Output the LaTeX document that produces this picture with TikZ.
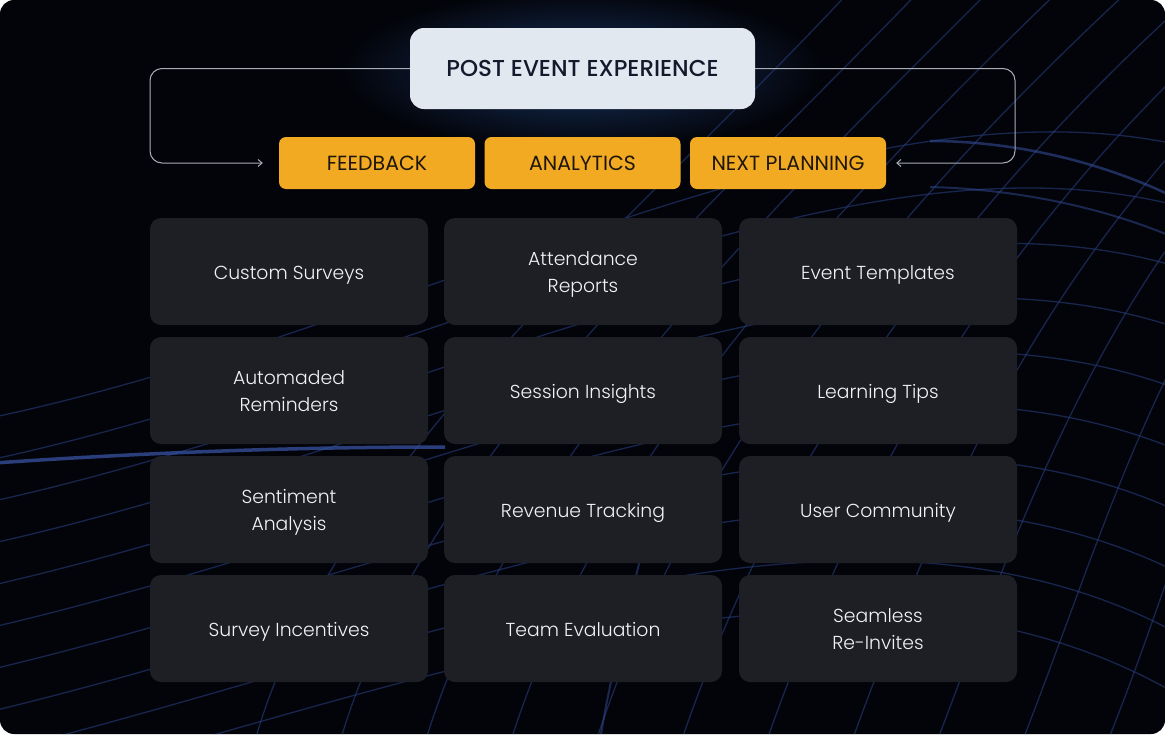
\documentclass[tikz,border=0pt]{standalone}
\usepackage{fontspec}
\setmainfont{Poppins}
\newfontfamily\titlefont{Poppins Medium}
\newfontfamily\lightfont{Poppins Light}
\usetikzlibrary{arrows.meta}
\definecolor{bgc}{HTML}{03040A}
\definecolor{glowc}{HTML}{16335E}
\definecolor{wavec}{HTML}{263C7A}
\definecolor{waveb}{HTML}{3652A2}
\definecolor{titlefill}{HTML}{E2E8F0}
\definecolor{titletext}{HTML}{121A2C}
\definecolor{orangec}{HTML}{F2AA22}
\definecolor{orangetext}{HTML}{1E160A}
\definecolor{cellfill}{HTML}{1E1F24}
\definecolor{celltext}{HTML}{F1F2F4}
\definecolor{connc}{HTML}{A9ADB6}
\tikzset{
  titlebox/.style={fill=titlefill, rounded corners=14pt, minimum width=345pt, minimum height=81pt,
    text=titletext, font=\titlefont\fontsize{23}{27}\selectfont, inner sep=0pt},
  tabbox/.style={fill=orangec, rounded corners=7pt, minimum width=196pt, minimum height=52pt,
    text=orangetext, font=\fontsize{20.5}{24}\selectfont, inner sep=0pt},
  cellbox/.style={fill=cellfill, rounded corners=11pt, minimum width=278pt, minimum height=107pt, inner sep=0pt},
  celltxt/.style={text=celltext, font=\lightfont\fontsize{18.8}{27}\selectfont, align=center, inner sep=0pt},
  conn/.style={draw=connc, line width=1pt, rounded corners=12pt, -{Straight Barb[length=4pt,width=7pt]}},
  wave/.style={draw=wavec, line width=1.3pt, opacity=0.6},
}
\newcommand\gridcell[4]{%
  \node[cellbox] (#1) at (#2,#3) {};
  \node[celltxt] (#1t) at ([yshift=-2.3pt]#1.center) {#4};
}
\begin{document}
\begin{tikzpicture}[x=1pt,y=-1pt]
\useasboundingbox (0,0) rectangle (1165,734);
\fill[white] (0,0) rectangle (1165,734);
\fill[bgc, rounded corners=14pt] (0,0) rectangle (1165,734);
\begin{scope}
\clip[rounded corners=14pt] (0,0) rectangle (1165,734);
% glow behind title
\shade[inner color=glowc, outer color=bgc] (582,70) ellipse (240pt and 80pt);
% latitude arcs
\foreach \i in {0,...,9}{
  \draw[wave] (-20,420+\i*42) .. controls (420,330+\i*40) and (860,60+\i*48) .. (1200,150+\i*62);
}
% longitude curves
\foreach \i in {0,...,11}{
  \draw[wave] (250+\i*85,760) .. controls (320+\i*90,470) and (640+\i*60,220) .. (860+\i*70,-20);
}
% bright bands
\draw[draw=waveb, line width=3.5pt, opacity=0.75] (-20,464) .. controls (150,452) and (300,447) .. (445,447);
\draw[draw=waveb, line width=2.5pt, opacity=0.55] (930,141) .. controls (1010,141) and (1100,160) .. (1180,200);
\draw[draw=waveb, line width=2pt, opacity=0.45] (930,187) .. controls (1010,189) and (1100,205) .. (1180,240);
\draw[draw=waveb, line width=2pt, opacity=0.45] (600,740) .. controls (610,680) and (620,640) .. (640,560);
\end{scope}

% title and tabs
\node[titlebox] (title) at (582.5,68.5) {\raisebox{-0.5pt}{POST EVENT EXPERIENCE}};
\node[tabbox] (feedback) at (377,163) {\raisebox{-1pt}{FEEDBACK}};
\node[tabbox] (analytics) at (582.5,163) {\raisebox{-1pt}{ANALYTICS}};
\node[tabbox] (planning) at (788,163) {\raisebox{-1pt}{NEXT PLANNING}};

% connectors
\coordinate (lcorner) at (150,163);
\coordinate (rcorner) at (1015,163);
\draw[conn, shorten >=16pt] (title.west) -| (lcorner) -- (feedback.west);
\draw[conn, shorten >=10pt] (title.east) -| (rcorner) -- (planning.east);

% grid
\gridcell{c11}{289}{271.5}{\strut Custom Surveys}
\gridcell{c12}{583}{271.5}{\strut Attendance\\\strut Reports}
\gridcell{c13}{878}{271.5}{\strut Event Templates}
\gridcell{c21}{289}{390.5}{\strut Automaded\\\strut Reminders}
\gridcell{c22}{583}{390.5}{\strut Session Insights}
\gridcell{c23}{878}{390.5}{\strut Learning Tips}
\gridcell{c31}{289}{509.5}{\strut Sentiment\\\strut Analysis}
\gridcell{c32}{583}{509.5}{\strut Revenue Tracking}
\gridcell{c33}{878}{509.5}{\strut User Community}
\gridcell{c41}{289}{628.5}{\strut Survey Incentives}
\gridcell{c42}{583}{628.5}{\strut Team Evaluation}
\gridcell{c43}{878}{628.5}{\strut Seamless\\\strut Re-Invites}
\end{tikzpicture}
\end{document}
